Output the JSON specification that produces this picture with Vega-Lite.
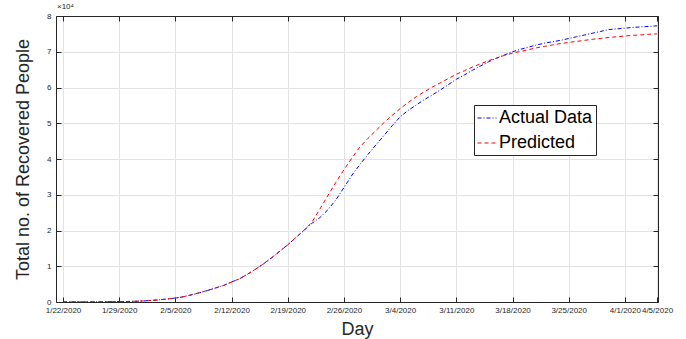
{
  "$schema": "https://vega.github.io/schema/vega-lite/v6.json",
  "width": 602,
  "height": 286,
  "autosize": {"type": "none"},
  "padding": {"left": 56, "top": 16, "right": 28, "bottom": 37},
  "background": "white",
  "config": {
    "font": "Liberation Sans",
    "view": {"stroke": null},
    "axis": {"labelFont": "Liberation Sans", "titleFont": "Liberation Sans", "labelColor": "#262626", "titleColor": "#262626", "titleFontWeight": "normal"}
  },
  "title": {"text": "×10⁴", "anchor": "start", "frame": "group", "fontSize": 8, "fontWeight": "normal", "color": "#262626", "offset": 1, "dx": 1},
  "datasets": {
    "pts": [
      {"date": "2020/01/22", "series": "Actual Data", "value": 28},
      {"date": "2020/01/23", "series": "Actual Data", "value": 30},
      {"date": "2020/01/24", "series": "Actual Data", "value": 36},
      {"date": "2020/01/25", "series": "Actual Data", "value": 39},
      {"date": "2020/01/26", "series": "Actual Data", "value": 49},
      {"date": "2020/01/27", "series": "Actual Data", "value": 58},
      {"date": "2020/01/28", "series": "Actual Data", "value": 101},
      {"date": "2020/01/29", "series": "Actual Data", "value": 120},
      {"date": "2020/01/30", "series": "Actual Data", "value": 135},
      {"date": "2020/01/31", "series": "Actual Data", "value": 214},
      {"date": "2020/02/01", "series": "Actual Data", "value": 275},
      {"date": "2020/02/02", "series": "Actual Data", "value": 463},
      {"date": "2020/02/03", "series": "Actual Data", "value": 614},
      {"date": "2020/02/04", "series": "Actual Data", "value": 843},
      {"date": "2020/02/05", "series": "Actual Data", "value": 1115},
      {"date": "2020/02/06", "series": "Actual Data", "value": 1476},
      {"date": "2020/02/07", "series": "Actual Data", "value": 1998},
      {"date": "2020/02/08", "series": "Actual Data", "value": 2595},
      {"date": "2020/02/09", "series": "Actual Data", "value": 3218},
      {"date": "2020/02/10", "series": "Actual Data", "value": 3917},
      {"date": "2020/02/11", "series": "Actual Data", "value": 4635},
      {"date": "2020/02/12", "series": "Actual Data", "value": 5600},
      {"date": "2020/02/13", "series": "Actual Data", "value": 6500},
      {"date": "2020/02/14", "series": "Actual Data", "value": 7800},
      {"date": "2020/02/15", "series": "Actual Data", "value": 9200},
      {"date": "2020/02/16", "series": "Actual Data", "value": 10700},
      {"date": "2020/02/17", "series": "Actual Data", "value": 12400},
      {"date": "2020/02/18", "series": "Actual Data", "value": 14200},
      {"date": "2020/02/19", "series": "Actual Data", "value": 16000},
      {"date": "2020/02/20", "series": "Actual Data", "value": 18000},
      {"date": "2020/02/21", "series": "Actual Data", "value": 20000},
      {"date": "2020/02/22", "series": "Actual Data", "value": 22000},
      {"date": "2020/02/23", "series": "Actual Data", "value": 23600},
      {"date": "2020/02/24", "series": "Actual Data", "value": 25800},
      {"date": "2020/02/25", "series": "Actual Data", "value": 28600},
      {"date": "2020/02/26", "series": "Actual Data", "value": 32000},
      {"date": "2020/02/27", "series": "Actual Data", "value": 35500},
      {"date": "2020/02/28", "series": "Actual Data", "value": 38500},
      {"date": "2020/02/29", "series": "Actual Data", "value": 41300},
      {"date": "2020/03/01", "series": "Actual Data", "value": 44000},
      {"date": "2020/03/02", "series": "Actual Data", "value": 46600},
      {"date": "2020/03/03", "series": "Actual Data", "value": 49300},
      {"date": "2020/03/04", "series": "Actual Data", "value": 51800},
      {"date": "2020/03/05", "series": "Actual Data", "value": 53600},
      {"date": "2020/03/06", "series": "Actual Data", "value": 55100},
      {"date": "2020/03/07", "series": "Actual Data", "value": 56600},
      {"date": "2020/03/08", "series": "Actual Data", "value": 57900},
      {"date": "2020/03/09", "series": "Actual Data", "value": 59300},
      {"date": "2020/03/10", "series": "Actual Data", "value": 60800},
      {"date": "2020/03/11", "series": "Actual Data", "value": 62300},
      {"date": "2020/03/12", "series": "Actual Data", "value": 63500},
      {"date": "2020/03/13", "series": "Actual Data", "value": 64800},
      {"date": "2020/03/14", "series": "Actual Data", "value": 66000},
      {"date": "2020/03/15", "series": "Actual Data", "value": 67200},
      {"date": "2020/03/16", "series": "Actual Data", "value": 68200},
      {"date": "2020/03/17", "series": "Actual Data", "value": 69100},
      {"date": "2020/03/18", "series": "Actual Data", "value": 70000},
      {"date": "2020/03/19", "series": "Actual Data", "value": 70700},
      {"date": "2020/03/20", "series": "Actual Data", "value": 71300},
      {"date": "2020/03/21", "series": "Actual Data", "value": 71900},
      {"date": "2020/03/22", "series": "Actual Data", "value": 72400},
      {"date": "2020/03/23", "series": "Actual Data", "value": 72800},
      {"date": "2020/03/24", "series": "Actual Data", "value": 73200},
      {"date": "2020/03/25", "series": "Actual Data", "value": 73700},
      {"date": "2020/03/26", "series": "Actual Data", "value": 74200},
      {"date": "2020/03/27", "series": "Actual Data", "value": 74700},
      {"date": "2020/03/28", "series": "Actual Data", "value": 75200},
      {"date": "2020/03/29", "series": "Actual Data", "value": 75700},
      {"date": "2020/03/30", "series": "Actual Data", "value": 76200},
      {"date": "2020/03/31", "series": "Actual Data", "value": 76400},
      {"date": "2020/04/01", "series": "Actual Data", "value": 76600},
      {"date": "2020/04/02", "series": "Actual Data", "value": 76800},
      {"date": "2020/04/03", "series": "Actual Data", "value": 76950},
      {"date": "2020/04/04", "series": "Actual Data", "value": 77100},
      {"date": "2020/04/05", "series": "Actual Data", "value": 77250},
      {"date": "2020/01/22", "series": "Predicted", "value": 28},
      {"date": "2020/01/23", "series": "Predicted", "value": 32},
      {"date": "2020/01/24", "series": "Predicted", "value": 37},
      {"date": "2020/01/25", "series": "Predicted", "value": 43},
      {"date": "2020/01/26", "series": "Predicted", "value": 52},
      {"date": "2020/01/27", "series": "Predicted", "value": 64},
      {"date": "2020/01/28", "series": "Predicted", "value": 90},
      {"date": "2020/01/29", "series": "Predicted", "value": 120},
      {"date": "2020/01/30", "series": "Predicted", "value": 160},
      {"date": "2020/01/31", "series": "Predicted", "value": 220},
      {"date": "2020/02/01", "series": "Predicted", "value": 300},
      {"date": "2020/02/02", "series": "Predicted", "value": 440},
      {"date": "2020/02/03", "series": "Predicted", "value": 610},
      {"date": "2020/02/04", "series": "Predicted", "value": 840},
      {"date": "2020/02/05", "series": "Predicted", "value": 1110},
      {"date": "2020/02/06", "series": "Predicted", "value": 1480},
      {"date": "2020/02/07", "series": "Predicted", "value": 2000},
      {"date": "2020/02/08", "series": "Predicted", "value": 2600},
      {"date": "2020/02/09", "series": "Predicted", "value": 3220},
      {"date": "2020/02/10", "series": "Predicted", "value": 3920},
      {"date": "2020/02/11", "series": "Predicted", "value": 4640},
      {"date": "2020/02/12", "series": "Predicted", "value": 5600},
      {"date": "2020/02/13", "series": "Predicted", "value": 6500},
      {"date": "2020/02/14", "series": "Predicted", "value": 7800},
      {"date": "2020/02/15", "series": "Predicted", "value": 9200},
      {"date": "2020/02/16", "series": "Predicted", "value": 10700},
      {"date": "2020/02/17", "series": "Predicted", "value": 12400},
      {"date": "2020/02/18", "series": "Predicted", "value": 14200},
      {"date": "2020/02/19", "series": "Predicted", "value": 16000},
      {"date": "2020/02/20", "series": "Predicted", "value": 18000},
      {"date": "2020/02/21", "series": "Predicted", "value": 20000},
      {"date": "2020/02/22", "series": "Predicted", "value": 22300},
      {"date": "2020/02/23", "series": "Predicted", "value": 26000},
      {"date": "2020/02/24", "series": "Predicted", "value": 29800},
      {"date": "2020/02/25", "series": "Predicted", "value": 33500},
      {"date": "2020/02/26", "series": "Predicted", "value": 37000},
      {"date": "2020/02/27", "series": "Predicted", "value": 40300},
      {"date": "2020/02/28", "series": "Predicted", "value": 43400},
      {"date": "2020/02/29", "series": "Predicted", "value": 45800},
      {"date": "2020/03/01", "series": "Predicted", "value": 48000},
      {"date": "2020/03/02", "series": "Predicted", "value": 50200},
      {"date": "2020/03/03", "series": "Predicted", "value": 52200},
      {"date": "2020/03/04", "series": "Predicted", "value": 54100},
      {"date": "2020/03/05", "series": "Predicted", "value": 55800},
      {"date": "2020/03/06", "series": "Predicted", "value": 57400},
      {"date": "2020/03/07", "series": "Predicted", "value": 58800},
      {"date": "2020/03/08", "series": "Predicted", "value": 60100},
      {"date": "2020/03/09", "series": "Predicted", "value": 61300},
      {"date": "2020/03/10", "series": "Predicted", "value": 62500},
      {"date": "2020/03/11", "series": "Predicted", "value": 63700},
      {"date": "2020/03/12", "series": "Predicted", "value": 64700},
      {"date": "2020/03/13", "series": "Predicted", "value": 65700},
      {"date": "2020/03/14", "series": "Predicted", "value": 66600},
      {"date": "2020/03/15", "series": "Predicted", "value": 67500},
      {"date": "2020/03/16", "series": "Predicted", "value": 68200},
      {"date": "2020/03/17", "series": "Predicted", "value": 69000},
      {"date": "2020/03/18", "series": "Predicted", "value": 69600},
      {"date": "2020/03/19", "series": "Predicted", "value": 70100},
      {"date": "2020/03/20", "series": "Predicted", "value": 70600},
      {"date": "2020/03/21", "series": "Predicted", "value": 71100},
      {"date": "2020/03/22", "series": "Predicted", "value": 71500},
      {"date": "2020/03/23", "series": "Predicted", "value": 71900},
      {"date": "2020/03/24", "series": "Predicted", "value": 72300},
      {"date": "2020/03/25", "series": "Predicted", "value": 72600},
      {"date": "2020/03/26", "series": "Predicted", "value": 72900},
      {"date": "2020/03/27", "series": "Predicted", "value": 73200},
      {"date": "2020/03/28", "series": "Predicted", "value": 73500},
      {"date": "2020/03/29", "series": "Predicted", "value": 73700},
      {"date": "2020/03/30", "series": "Predicted", "value": 74000},
      {"date": "2020/03/31", "series": "Predicted", "value": 74200},
      {"date": "2020/04/01", "series": "Predicted", "value": 74400},
      {"date": "2020/04/02", "series": "Predicted", "value": 74600},
      {"date": "2020/04/03", "series": "Predicted", "value": 74700},
      {"date": "2020/04/04", "series": "Predicted", "value": 74900},
      {"date": "2020/04/05", "series": "Predicted", "value": 75000}
    ]
  },
  "data": {"name": "pts"},
  "resolve": {"axis": {"x": "independent", "y": "independent"}},
  "layer": [
    {
      "mark": {"type": "line", "strokeWidth": 1, "clip": true},
      "encoding": {
        "x": {
          "field": "date", "type": "temporal",
          "scale": {"domain": [{"year": 2020, "month": 1, "date": 21, "hours": 3}, {"year": 2020, "month": 4, "date": 5, "hours": 3}]},
          "axis": {
            "orient": "bottom", "title": "Day", "titleFontSize": 18, "titlePadding": 6,
            "format": "%-m/%-d/%Y", "labelFontSize": 8, "labelOverlap": false, "labelPadding": 9,
            "values": [
              {"year": 2020, "month": 1, "date": 22}, {"year": 2020, "month": 1, "date": 29},
              {"year": 2020, "month": 2, "date": 5}, {"year": 2020, "month": 2, "date": 12},
              {"year": 2020, "month": 2, "date": 19}, {"year": 2020, "month": 2, "date": 26},
              {"year": 2020, "month": 3, "date": 4}, {"year": 2020, "month": 3, "date": 11},
              {"year": 2020, "month": 3, "date": 18}, {"year": 2020, "month": 3, "date": 25},
              {"year": 2020, "month": 4, "date": 1}, {"year": 2020, "month": 4, "date": 5}
            ],
            "grid": true, "gridColor": "#e3e3e3", "gridWidth": 1,
            "domainColor": "#262626", "tickColor": "#262626", "tickSize": -5
          }
        },
        "y": {
          "field": "value", "type": "quantitative",
          "scale": {"domain": [0, 80000], "nice": false},
          "axis": {
            "orient": "left", "title": "Total no. of Recovered People", "titleFontSize": 18, "titlePadding": 14,
            "values": [0, 10000, 20000, 30000, 40000, 50000, 60000, 70000, 80000],
            "labelExpr": "datum.value / 10000", "labelFontSize": 8, "labelPadding": 10,
            "grid": true, "gridColor": "#e3e3e3", "gridWidth": 1,
            "domainColor": "#262626", "tickColor": "#262626", "tickSize": -5
          }
        },
        "color": {
          "field": "series", "type": "nominal",
          "scale": {"domain": ["Actual Data", "Predicted"], "range": ["#0000ff", "#ff0000"]},
          "legend": {
            "title": null, "orient": "none", "legendX": 418, "legendY": 89,
            "labelFontSize": 18, "labelFont": "Liberation Sans", "labelColor": "#000000",
            "symbolType": "stroke", "symbolSize": 361, "symbolStrokeWidth": 1,
            "strokeColor": "#262626", "fillColor": "white", "padding": 3, "rowPadding": 6, "labelOffset": 2
          }
        },
        "strokeDash": {
          "field": "series", "type": "nominal",
          "scale": {"domain": ["Actual Data", "Predicted"], "range": [[4, 2, 1, 2], [4, 3]]},
          "legend": {
            "title": null, "orient": "none", "legendX": 418, "legendY": 89,
            "labelFontSize": 18, "labelFont": "Liberation Sans", "labelColor": "#000000",
            "symbolType": "stroke", "symbolSize": 361, "symbolStrokeWidth": 1,
            "strokeColor": "#262626", "fillColor": "white", "padding": 3, "rowPadding": 6, "labelOffset": 2
          }
        }
      }
    },
    {
      "mark": {"type": "point", "opacity": 0},
      "encoding": {
        "x": {
          "field": "date", "type": "temporal",
          "axis": {
            "orient": "top", "title": null, "labels": false, "grid": false,
            "values": [
              {"year": 2020, "month": 1, "date": 22}, {"year": 2020, "month": 1, "date": 29},
              {"year": 2020, "month": 2, "date": 5}, {"year": 2020, "month": 2, "date": 12},
              {"year": 2020, "month": 2, "date": 19}, {"year": 2020, "month": 2, "date": 26},
              {"year": 2020, "month": 3, "date": 4}, {"year": 2020, "month": 3, "date": 11},
              {"year": 2020, "month": 3, "date": 18}, {"year": 2020, "month": 3, "date": 25},
              {"year": 2020, "month": 4, "date": 1}, {"year": 2020, "month": 4, "date": 5}
            ],
            "domainColor": "#262626", "tickColor": "#262626", "tickSize": -5
          }
        },
        "y": {
          "field": "value", "type": "quantitative",
          "axis": {
            "orient": "right", "title": null, "labels": false, "grid": false,
            "values": [0, 10000, 20000, 30000, 40000, 50000, 60000, 70000, 80000],
            "domainColor": "#262626", "tickColor": "#262626", "tickSize": -5
          }
        }
      }
    }
  ]
}
